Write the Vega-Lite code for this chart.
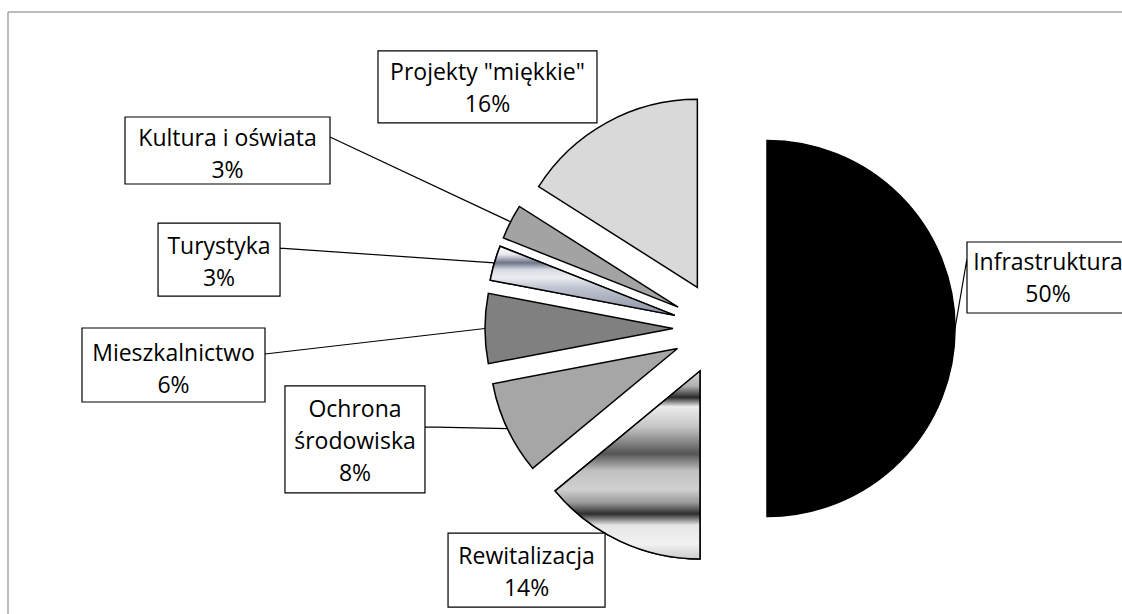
{
  "$schema": "https://vega.github.io/schema/vega-lite/v6.json",
  "usermeta": {"embedOptions": {"actions": false}},
  "width": 1114,
  "height": 602,
  "autosize": {"type": "none"},
  "padding": {"left": 8, "top": 12, "right": 0, "bottom": 0},
  "background": "#ffffff",
  "config": {
    "view": {"stroke": "#a6a6a6", "strokeWidth": 1.5, "strokeDash": [1114, 1716, 602, 0]},
    "text": {"font": "Open Sans"}
  },
  "data": {
    "values": [
      {"category": "Infrastruktura", "value": 50, "order": 1},
      {"category": "Rewitalizacja", "value": 14, "order": 2},
      {"category": "Ochrona środowiska", "value": 8, "order": 3},
      {"category": "Mieszkalnictwo", "value": 6, "order": 4},
      {"category": "Turystyka", "value": 3, "order": 5},
      {"category": "Kultura i oświata", "value": 3, "order": 6},
      {"category": "Projekty \"miękkie\"", "value": 16, "order": 7}
    ]
  },
  "transform": [
    {"window": [{"op": "sum", "field": "value", "as": "cum"}], "sort": [{"field": "order"}], "frame": [null, 0]},
    {"joinaggregate": [{"op": "sum", "field": "value", "as": "total"}]},
    {"calculate": "2*PI*(datum.cum-datum.value)/datum.total", "as": "t0"},
    {"calculate": "2*PI*datum.cum/datum.total", "as": "t1"},
    {"calculate": "(datum.t0+datum.t1)/2", "as": "tm"},
    {"calculate": "sin(datum.tm)", "as": "ex"},
    {"calculate": "cos(datum.tm)", "as": "ey"},
    {"calculate": "5*datum.ex", "as": "ox"},
    {"calculate": "5*datum.ey", "as": "oy"},
    {"calculate": "replace(datum.category, ' ś', '\\nś') + '\\n' + datum.value + '%'", "as": "lab"}
  ],
  "layer": [
    {
      "mark": {"type": "arc", "outerRadius": 188, "stroke": "#000000", "strokeWidth": 1.5, "strokeJoin": "miter"},
      "encoding": {
        "x": {"field": "ex", "type": "quantitative", "scale": {"domain": [-15.1489, 8.5532], "nice": false, "zero": false}, "axis": null},
        "y": {"field": "ey", "type": "quantitative", "scale": {"domain": [-6.0745, 6.734], "nice": false, "zero": false}, "axis": null},
        "theta": {"field": "t0", "type": "quantitative", "stack": null, "scale": {"domain": [0, 6.283185307179586], "range": [0, 6.283185307179586]}},
        "theta2": {"field": "t1"},
        "color": {
          "field": "category", "type": "nominal", "legend": null,
          "scale": {
            "domain": ["Infrastruktura", "Rewitalizacja", "Ochrona środowiska", "Mieszkalnictwo", "Turystyka", "Kultura i oświata", "Projekty \"miękkie\""],
            "range": ["#000000", "#c8c8c8", "#a6a6a6", "#808080", "#c0c4d0", "#a3a3a3", "#d9d9d9"]
          }
        }
      }
    },
    {
      "transform": [{"filter": {"field": "category", "equal": "Rewitalizacja"}}],
      "mark": {
        "type": "arc", "outerRadius": 188, "stroke": "#000000", "strokeWidth": 1.5, "strokeJoin": "miter",
        "fill": {
          "gradient": "linear", "x1": 0, "y1": 0, "x2": 0, "y2": 1,
          "stops": [
            {"offset": 0, "color": "#d8d8d8"},
            {"offset": 0.08, "color": "#b0b0b0"},
            {"offset": 0.14, "color": "#2a2a2a"},
            {"offset": 0.19, "color": "#ececec"},
            {"offset": 0.3, "color": "#c4c4c4"},
            {"offset": 0.44, "color": "#555555"},
            {"offset": 0.53, "color": "#c0c0c0"},
            {"offset": 0.63, "color": "#d0d0d0"},
            {"offset": 0.7, "color": "#9a9a9a"},
            {"offset": 0.76, "color": "#2e2e2e"},
            {"offset": 0.82, "color": "#e6e6e6"},
            {"offset": 0.92, "color": "#f2f2f2"},
            {"offset": 1, "color": "#cccccc"}
          ]
        }
      },
      "encoding": {
        "x": {"field": "ex", "type": "quantitative", "scale": {"domain": [-15.1489, 8.5532], "nice": false, "zero": false}, "axis": null},
        "y": {"field": "ey", "type": "quantitative", "scale": {"domain": [-6.0745, 6.734], "nice": false, "zero": false}, "axis": null},
        "theta": {"field": "t0", "type": "quantitative", "stack": null, "scale": {"domain": [0, 6.283185307179586], "range": [0, 6.283185307179586]}},
        "theta2": {"field": "t1"}
      }
    },
    {
      "transform": [{"filter": {"field": "category", "equal": "Turystyka"}}],
      "mark": {
        "type": "arc", "outerRadius": 188, "stroke": "#000000", "strokeWidth": 1.5, "strokeJoin": "miter",
        "fill": {
          "gradient": "linear", "x1": 0, "y1": 0, "x2": 0, "y2": 1,
          "stops": [
            {"offset": 0, "color": "#ffffff"},
            {"offset": 0.12, "color": "#e8e9ee"},
            {"offset": 0.24, "color": "#6e7488"},
            {"offset": 0.34, "color": "#d8dae2"},
            {"offset": 0.45, "color": "#eceef2"},
            {"offset": 0.6, "color": "#c0c4d0"},
            {"offset": 1, "color": "#8a90a4"}
          ]
        }
      },
      "encoding": {
        "x": {"field": "ex", "type": "quantitative", "scale": {"domain": [-15.1489, 8.5532], "nice": false, "zero": false}, "axis": null},
        "y": {"field": "ey", "type": "quantitative", "scale": {"domain": [-6.0745, 6.734], "nice": false, "zero": false}, "axis": null},
        "theta": {"field": "t0", "type": "quantitative", "stack": null, "scale": {"domain": [0, 6.283185307179586], "range": [0, 6.283185307179586]}},
        "theta2": {"field": "t1"}
      }
    },
    {
      "mark": {"type": "point", "filled": true, "fill": "#ffffff", "stroke": "#000000", "strokeWidth": 1.2, "opacity": 1, "size": 4},
      "encoding": {
        "x": {"field": "ox", "type": "quantitative", "scale": {"domain": [-15.1489, 8.5532], "nice": false, "zero": false}, "axis": null},
        "y": {"field": "oy", "type": "quantitative", "scale": {"domain": [-6.0745, 6.734], "nice": false, "zero": false}, "axis": null},
        "shape": {
          "field": "category", "type": "nominal", "legend": null,
          "scale": {
            "domain": ["Infrastruktura", "Rewitalizacja", "Ochrona środowiska", "Mieszkalnictwo", "Turystyka", "Kultura i oświata", "Projekty \"miękkie\""],
            "range": [
              "M12,-86.5H175V-15.5H12Z M0,0L12,-70",
              "M-171.9,-8.1H-14.9V65.9H-171.9Z",
              "M-222.4,-42.6H-82.4V64.4H-222.4Z M0,0L-82.4,-1.6",
              "M-403,-0.5H-220V73.5H-403Z M0,0L-220,25.5",
              "M-336.3,-39.9H-214.3V33.1H-336.3Z M0,0L-214.3,-14.9",
              "M-385.6,-104.8H-180.6V-37.8H-385.6Z M0,0L-180.6,-84.8",
              "M-228.8,-71.6H-9.8V0.4H-228.8Z"
            ]
          }
        }
      }
    },
    {
      "transform": [{"filter": {"field": "category", "equal": "Infrastruktura"}}],
      "mark": {"type": "text", "font": "Open Sans", "fontSize": 23, "lineHeight": 32, "lineBreak": "\n", "align": "center", "baseline": "middle", "dx": 93, "dy": -65.5, "color": "#000000"},
      "encoding": {
        "x": {"field": "ox", "type": "quantitative", "scale": {"domain": [-15.1489, 8.5532], "nice": false, "zero": false}, "axis": null},
        "y": {"field": "oy", "type": "quantitative", "scale": {"domain": [-6.0745, 6.734], "nice": false, "zero": false}, "axis": null},
        "text": {"field": "lab"}
      }
    },
    {
      "transform": [{"filter": {"field": "category", "equal": "Rewitalizacja"}}],
      "mark": {"type": "text", "font": "Open Sans", "fontSize": 23, "lineHeight": 32, "lineBreak": "\n", "align": "center", "baseline": "middle", "dx": -93.4, "dy": 15.9, "color": "#000000"},
      "encoding": {
        "x": {"field": "ox", "type": "quantitative", "scale": {"domain": [-15.1489, 8.5532], "nice": false, "zero": false}, "axis": null},
        "y": {"field": "oy", "type": "quantitative", "scale": {"domain": [-6.0745, 6.734], "nice": false, "zero": false}, "axis": null},
        "text": {"field": "lab"}
      }
    },
    {
      "transform": [{"filter": {"field": "category", "equal": "Ochrona środowiska"}}],
      "mark": {"type": "text", "font": "Open Sans", "fontSize": 23, "lineHeight": 32, "lineBreak": "\n", "align": "center", "baseline": "middle", "dx": -152.4, "dy": -18.6, "color": "#000000"},
      "encoding": {
        "x": {"field": "ox", "type": "quantitative", "scale": {"domain": [-15.1489, 8.5532], "nice": false, "zero": false}, "axis": null},
        "y": {"field": "oy", "type": "quantitative", "scale": {"domain": [-6.0745, 6.734], "nice": false, "zero": false}, "axis": null},
        "text": {"field": "lab"}
      }
    },
    {
      "transform": [{"filter": {"field": "category", "equal": "Mieszkalnictwo"}}],
      "mark": {"type": "text", "font": "Open Sans", "fontSize": 23, "lineHeight": 32, "lineBreak": "\n", "align": "center", "baseline": "middle", "dx": -311.5, "dy": 25.5, "color": "#000000"},
      "encoding": {
        "x": {"field": "ox", "type": "quantitative", "scale": {"domain": [-15.1489, 8.5532], "nice": false, "zero": false}, "axis": null},
        "y": {"field": "oy", "type": "quantitative", "scale": {"domain": [-6.0745, 6.734], "nice": false, "zero": false}, "axis": null},
        "text": {"field": "lab"}
      }
    },
    {
      "transform": [{"filter": {"field": "category", "equal": "Turystyka"}}],
      "mark": {"type": "text", "font": "Open Sans", "fontSize": 23, "lineHeight": 32, "lineBreak": "\n", "align": "center", "baseline": "middle", "dx": -275.3, "dy": -15.9, "color": "#000000"},
      "encoding": {
        "x": {"field": "ox", "type": "quantitative", "scale": {"domain": [-15.1489, 8.5532], "nice": false, "zero": false}, "axis": null},
        "y": {"field": "oy", "type": "quantitative", "scale": {"domain": [-6.0745, 6.734], "nice": false, "zero": false}, "axis": null},
        "text": {"field": "lab"}
      }
    },
    {
      "transform": [{"filter": {"field": "category", "equal": "Kultura i oświata"}}],
      "mark": {"type": "text", "font": "Open Sans", "fontSize": 23, "lineHeight": 32, "lineBreak": "\n", "align": "center", "baseline": "middle", "dx": -283.1, "dy": -82.8, "color": "#000000"},
      "encoding": {
        "x": {"field": "ox", "type": "quantitative", "scale": {"domain": [-15.1489, 8.5532], "nice": false, "zero": false}, "axis": null},
        "y": {"field": "oy", "type": "quantitative", "scale": {"domain": [-6.0745, 6.734], "nice": false, "zero": false}, "axis": null},
        "text": {"field": "lab"}
      }
    },
    {
      "transform": [{"filter": {"field": "category", "equal": "Projekty \"miękkie\""}}],
      "mark": {"type": "text", "font": "Open Sans", "fontSize": 23, "lineHeight": 32, "lineBreak": "\n", "align": "center", "baseline": "middle", "dx": -119.3, "dy": -49.6, "color": "#000000"},
      "encoding": {
        "x": {"field": "ox", "type": "quantitative", "scale": {"domain": [-15.1489, 8.5532], "nice": false, "zero": false}, "axis": null},
        "y": {"field": "oy", "type": "quantitative", "scale": {"domain": [-6.0745, 6.734], "nice": false, "zero": false}, "axis": null},
        "text": {"field": "lab"}
      }
    }
  ]
}
